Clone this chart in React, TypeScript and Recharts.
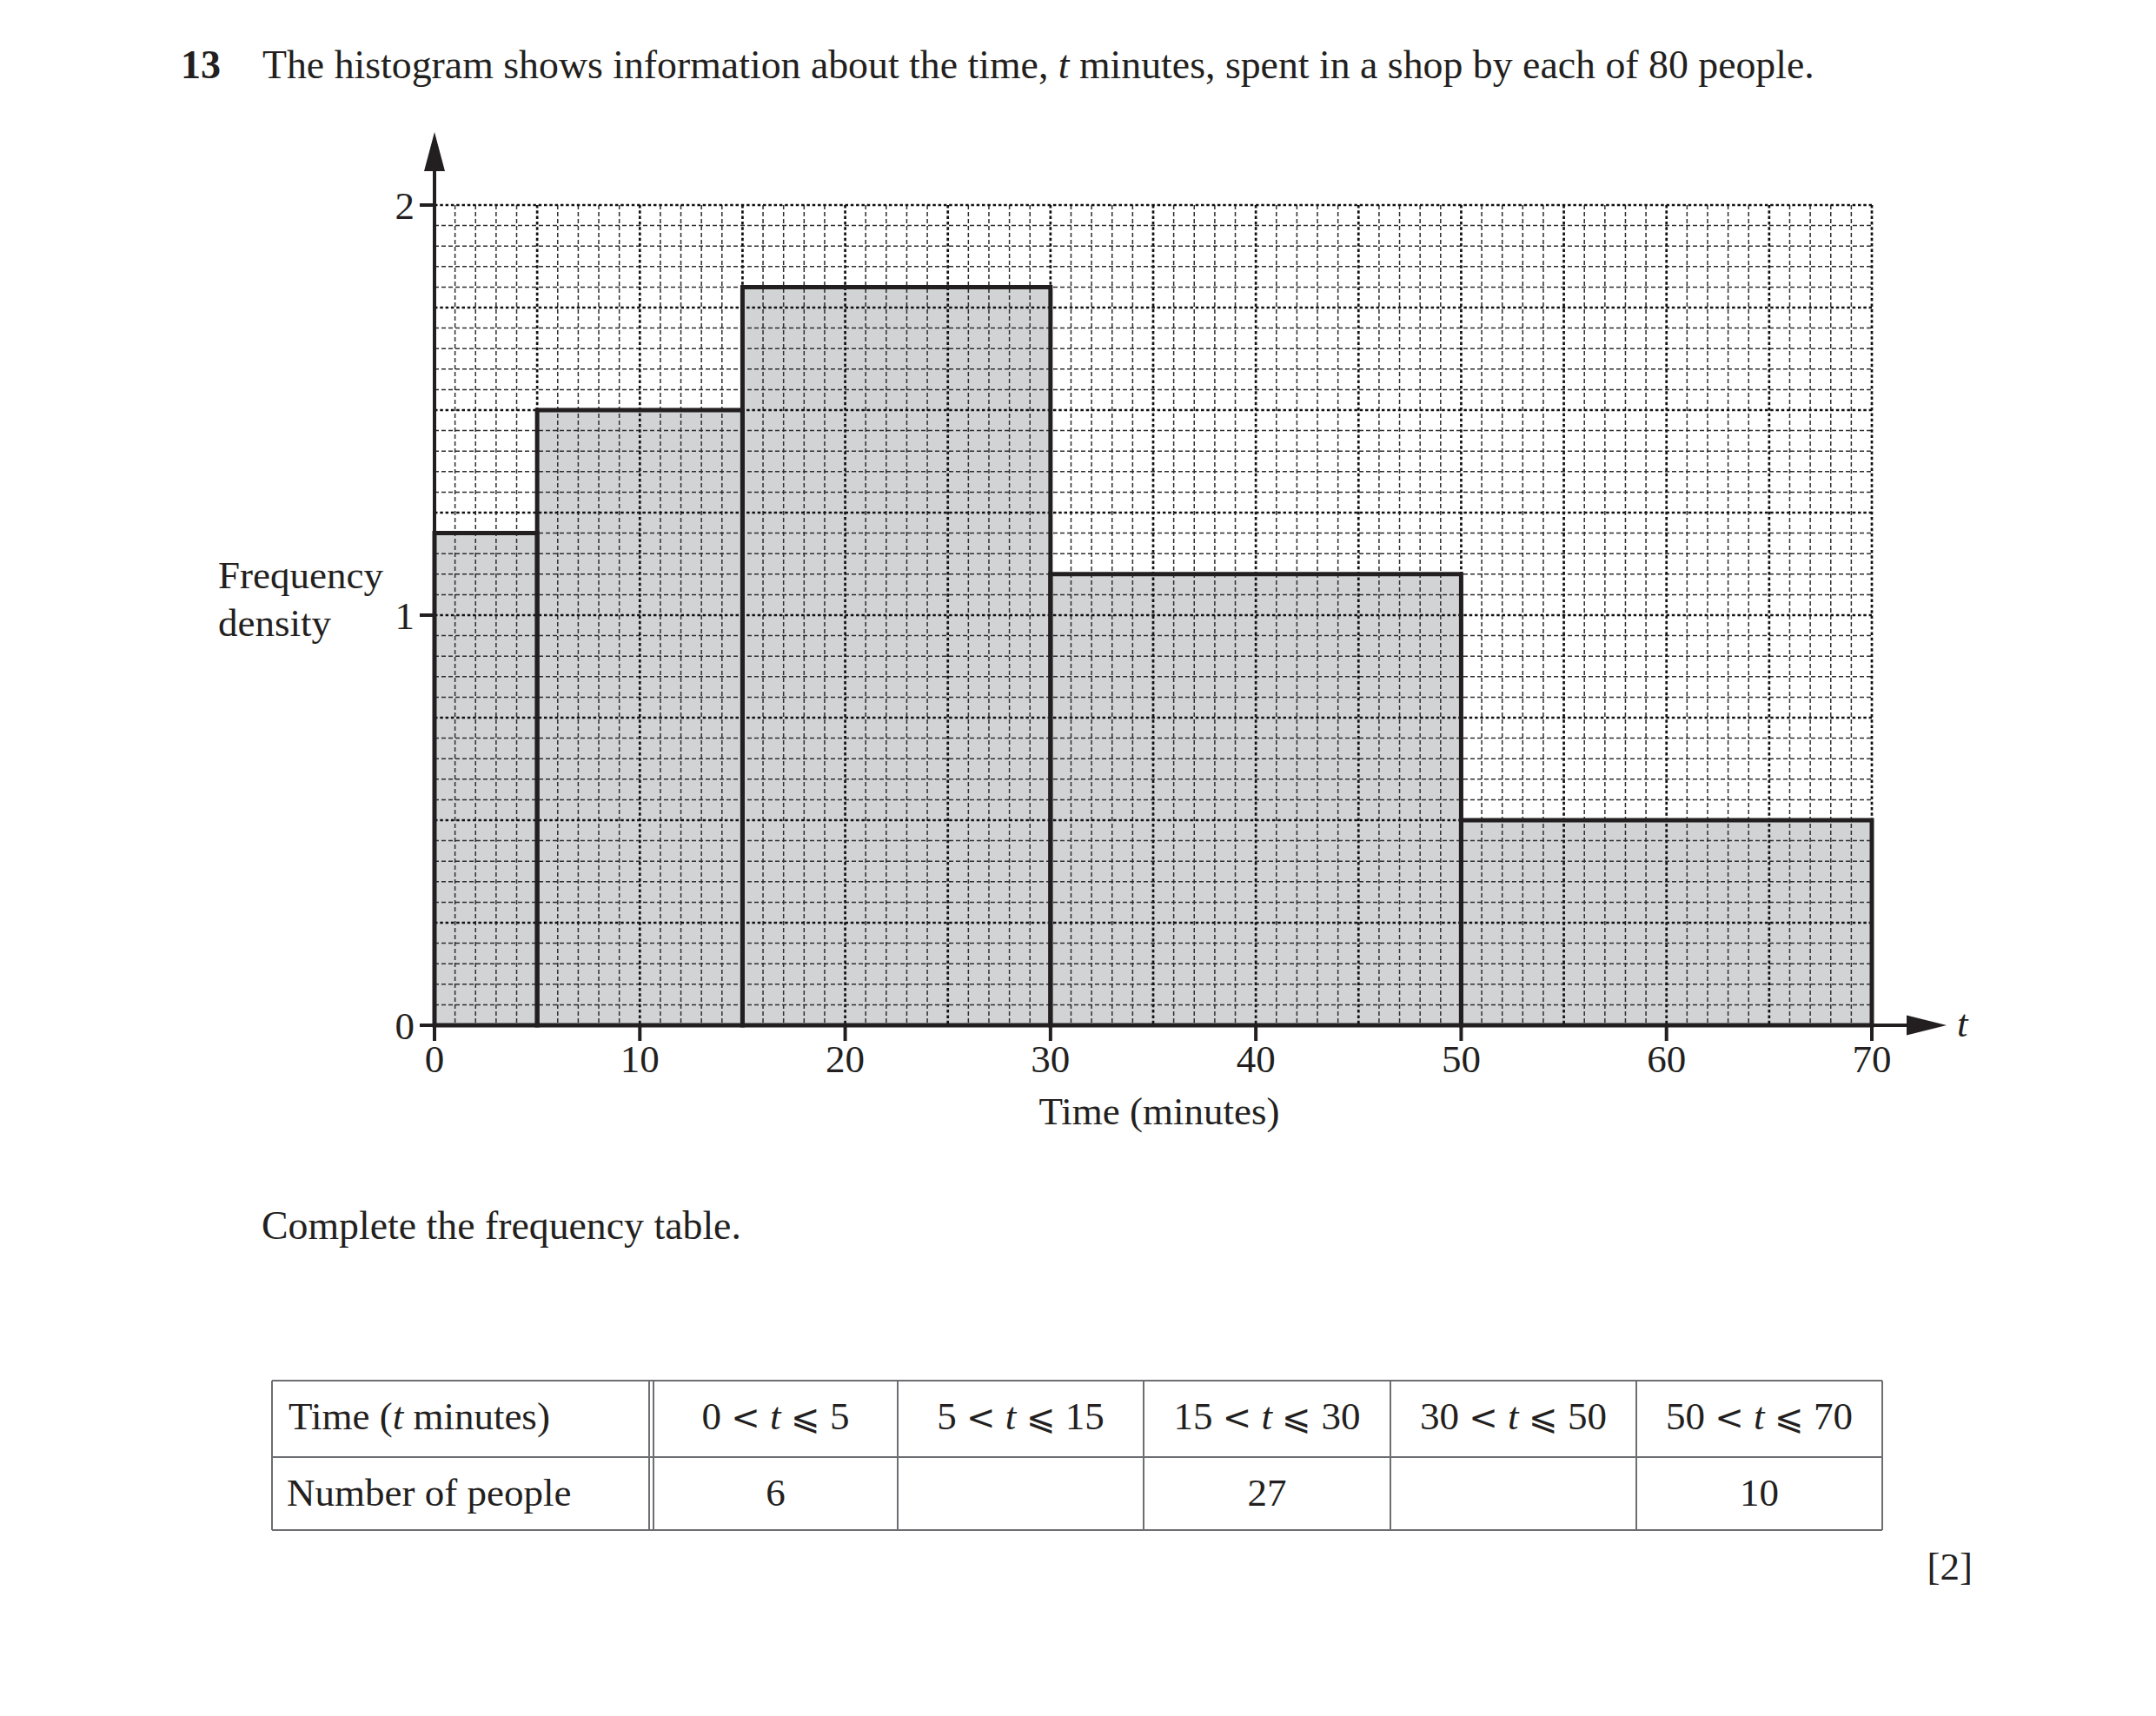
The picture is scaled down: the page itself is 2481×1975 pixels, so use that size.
import React from 'react';
import { ComposedChart, XAxis, YAxis, CartesianGrid, ReferenceArea } from 'recharts';

// ---- data ----
const binStart = [0, 5, 15, 30, 50];
const binEnd = [5, 15, 30, 50, 70];
const frequencyDensity = [1.2, 1.5, 1.8, 1.1, 0.5];
const xTickValues = [0, 10, 20, 30, 40, 50, 60, 70];
const yTickValues = [0, 1, 2];

// ---- frequency table ----
const tableLower = [0, 5, 15, 30, 50];
const tableUpper = [5, 15, 30, 50, 70];
const numberOfPeople = ['6', '', '27', '', '10'];

const bins = binStart.map((s, i) => ({ start: s, end: binEnd[i], density: frequencyDensity[i] }));

const W = 2481;
const H = 1975;
const CH = 1400;
const INK = '#231f20';
const FONT = "'Liberation Serif', 'Times New Roman', Times, serif";
const FS = 45;

// graph-paper grid (1 minute x 0.05 density small squares, heavier every 5 squares)
const minorX: number[] = [];
const majorX: number[] = [];
for (let k = 1; k <= 70; k++) (k % 5 === 0 ? majorX : minorX).push(k);
const minorY: number[] = [];
const majorY: number[] = [];
for (let k = 1; k <= 40; k++) (k % 5 === 0 ? majorY : minorY).push(k / 20);

const XDecor = (props: any) => {
  const vb = props && props.viewBox && props.viewBox.width ? props.viewBox : { x: 500, y: 1180, width: 1654, height: 100 };
  const right = vb.x + vb.width;
  const y = vb.y;
  return (
    <g>
      <line x1={right} y1={y} x2={right + 44} y2={y} stroke={INK} strokeWidth={4} />
      <polygon points={`${right + 86},${y} ${right + 40},${y - 11.5} ${right + 40},${y + 11.5}`} fill={INK} />
      <text x={right + 98} y={y + 13} fontFamily={FONT} fontSize={FS} fontStyle="italic" fill={INK}>t</text>
      <text x={vb.x + vb.width / 2 + 7} y={y + 114} textAnchor="middle" fontFamily={FONT} fontSize={FS} fill={INK}>
        Time (minutes)
      </text>
    </g>
  );
};

const YDecor = (props: any) => {
  const vb = props && props.viewBox && props.viewBox.height ? props.viewBox : { x: 0, y: 236, width: 500, height: 944 };
  const ax = vb.x + vb.width;
  const top = vb.y;
  return (
    <g>
      <line x1={ax} y1={top} x2={ax} y2={top - 44} stroke={INK} strokeWidth={4} />
      <polygon points={`${ax},${top - 84} ${ax - 12},${top - 39} ${ax + 12},${top - 39}`} fill={INK} />
      <text x={vb.x + 251} y={677} fontFamily={FONT} fontSize={FS} fill={INK}>Frequency</text>
      <text x={vb.x + 251} y={732} fontFamily={FONT} fontSize={FS} fill={INK}>density</text>
    </g>
  );
};

const colEdges = [752, 1033, 1316, 1600, 1883, 2166];

export default function App() {
  return (
    <div style={{ position: 'absolute', left: 0, top: 0, width: W, height: H, background: '#ffffff', overflow: 'hidden' }}>
      {/* layer 1: bar fills */}
      <div style={{ position: 'absolute', left: 0, top: 0 }}>
        <ComposedChart width={W} height={CH} data={bins} margin={{ top: 236, right: 327, left: 500, bottom: 220 }}>
          <XAxis type="number" dataKey="start" domain={[0, 70]} allowDataOverflow hide />
          <YAxis type="number" dataKey="density" domain={[0, 2]} allowDataOverflow hide />
          {bins.map((b, i) => (
            <ReferenceArea key={`f${i}`} x1={b.start} x2={b.end} y1={0} y2={b.density} fill="#d1d3d4" fillOpacity={1} stroke="none" ifOverflow="visible" />
          ))}
        </ComposedChart>
      </div>
      {/* layer 2: grid, bar outlines, axes */}
      <div style={{ position: 'absolute', left: 0, top: 0 }}>
        <ComposedChart width={W} height={CH} data={bins} margin={{ top: 236, right: 327, left: 0, bottom: 120 }}>
          <CartesianGrid horizontalValues={minorY} verticalValues={minorX} stroke="#2e2e2e" strokeWidth={1.5} strokeDasharray="5 3" />
          <CartesianGrid horizontalValues={majorY} verticalValues={majorX} stroke="#111111" strokeWidth={2.7} strokeDasharray="3.5 2.8" />
          {bins.map((b, i) => (
            <ReferenceArea key={`o${i}`} x1={b.start} x2={b.end} y1={0} y2={b.density} fill="none" fillOpacity={0} stroke={INK} strokeWidth={5} ifOverflow="visible" />
          ))}
          <XAxis
            type="number"
            dataKey="start"
            domain={[0, 70]}
            allowDataOverflow
            ticks={xTickValues}
            interval={0}
            height={100}
            tickSize={18}
            tickMargin={4}
            axisLine={{ stroke: INK, strokeWidth: 4 }}
            tickLine={{ stroke: INK, strokeWidth: 4 }}
            tick={{ fill: INK, fontSize: FS, fontFamily: FONT }}
            label={{ content: (p: any) => <XDecor {...p} /> }}
          />
          <YAxis
            type="number"
            dataKey="density"
            domain={[0, 2]}
            allowDataOverflow
            ticks={yTickValues}
            interval={0}
            width={500}
            tickSize={17}
            tickMargin={6}
            axisLine={{ stroke: INK, strokeWidth: 4 }}
            tickLine={{ stroke: INK, strokeWidth: 4 }}
            tick={{ fill: INK, fontSize: FS, fontFamily: FONT }}
            label={{ content: (p: any) => <YDecor {...p} /> }}
          />
        </ComposedChart>
      </div>
      {/* layer 3: question text and frequency table */}
      <svg width={W} height={H} style={{ position: 'absolute', left: 0, top: 0, pointerEvents: 'none' }}>
        <g fontFamily={FONT} fontSize={FS} fill={INK}>
          <text x={208} y={90} fontWeight="bold" fontSize={46}>13</text>
          <text x={302} y={90} fontSize={45.8}>
            {'The histogram shows information about the time, '}
            <tspan fontStyle="italic">t</tspan>
            {' minutes, spent in a shop by each of 80 people.'}
          </text>
          <text x={301} y={1426} fontSize={45.8}>Complete the frequency table.</text>

          <g stroke="#6d6e71" strokeWidth={2}>
            {[1589, 1677, 1761].map((yy) => (
              <line key={`h${yy}`} x1={313} y1={yy} x2={2166} y2={yy} />
            ))}
            {[313, 747, ...colEdges].map((xx) => (
              <line key={`v${xx}`} x1={xx} y1={1589} x2={xx} y2={1761} />
            ))}
          </g>
          <text x={332} y={1645}>
            {'Time ('}
            <tspan fontStyle="italic">t</tspan>
            {' minutes)'}
          </text>
          <text x={330} y={1733}>Number of people</text>
          {tableLower.map((lo, i) => {
            const cx = (colEdges[i] + colEdges[i + 1]) / 2;
            return (
              <g key={`c${i}`}>
                <text x={cx} y={1645} textAnchor="middle">
                  {`${lo} `}
                  <tspan fontFamily="'DejaVu Serif', serif" fontWeight="normal" fontSize={40}>{'<'}</tspan>
                  {' '}
                  <tspan fontStyle="italic">t</tspan>
                  {' '}
                  <tspan fontFamily="'DejaVu Serif', serif" fontSize={40}>{'\u2A7D'}</tspan>
                  {` ${tableUpper[i]}`}
                </text>
                <text x={cx} y={1733} textAnchor="middle">{numberOfPeople[i]}</text>
              </g>
            );
          })}
          <text x={2270} y={1818} textAnchor="end">[2]</text>
        </g>
      </svg>
    </div>
  );
}
